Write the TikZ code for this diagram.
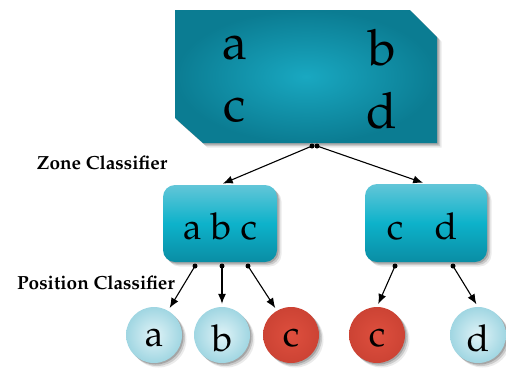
\documentclass[tikz,border=0pt]{standalone}
\usepackage[T1]{fontenc}
\usepackage{mathpazo}
\usetikzlibrary{shadows,arrows.meta}

\definecolor{zoneedge}{HTML}{0B7C92}
\definecolor{zonemid}{HTML}{19A8C1}
\definecolor{boxtop}{HTML}{62C6D8}
\definecolor{boxmid}{HTML}{0DB2CA}
\definecolor{boxbot}{HTML}{0A8DA4}
\definecolor{leafin}{HTML}{E0F3F7}
\definecolor{leafout}{HTML}{A0D6E2}
\definecolor{hitin}{HTML}{DE4F3E}
\definecolor{hitout}{HTML}{CC4334}

\tikzset{
  x=1pt, y=-1pt,
  softshadow/.style={
    drop shadow={shadow xshift=1.5pt, shadow yshift=-1.5pt, opacity=0.18, fill=black},
    drop shadow={shadow xshift=3pt, shadow yshift=-3pt, opacity=0.14, fill=black},
    drop shadow={shadow xshift=4.5pt, shadow yshift=-4.5pt, opacity=0.08, fill=black}},
  zonefill/.style={shading=radial, inner color=zonemid, outer color=zoneedge, softshadow},
  posbox/.style={rectangle, rounded corners=12pt, inner sep=0pt,
    top color=boxtop, bottom color=boxbot, middle color=boxmid, softshadow},
  leaf/.style={circle, minimum size=56pt, inner sep=0pt, softshadow},
  blueleaf/.style={leaf, shading=radial, inner color=leafin, outer color=leafout},
  redleaf/.style={leaf, shading=radial, inner color=hitin, outer color=hitout},
  bigletter/.style={font=\fontsize{50}{50}\selectfont, inner sep=0pt},
  letter/.style={font=\fontsize{37}{37}\selectfont, inner sep=0pt},
  caption/.style={font=\fontsize{19}{19}\selectfont\bfseries, inner sep=0pt},
  link/.style={line width=1.1pt, -{Latex[length=10pt,width=8pt]}, shorten >=3pt},
  knot/.style={circle, fill=black, inner sep=0pt, minimum size=5pt},
}

\begin{document}
\begin{tikzpicture}
\useasboundingbox (0,0) rectangle (506,368);

% zone classifier: box with two cut corners
\path[zonefill] (175,10) -- (410,10) -- (437,37) -- (437,143) -- (203,143) -- (175,118) -- cycle;
\node[minimum width=262pt, minimum height=133pt, inner sep=0pt] (zone) at (306,76.5) {};
\node[bigletter] (za) at (235,47) {a};
\node[bigletter] (zb) at (382,47) {b};
\node[bigletter] (zc) at (235,110) {c};
\node[bigletter] (zd) at (382,110) {d};

% position classifiers
\node[posbox, minimum width=114pt, minimum height=77pt] (left) at (220,223.5) {};
\node[posbox, minimum width=122pt, minimum height=78pt] (right) at (426,223) {};
\node[letter] (labc) at (220,227) {a b c};
\node[letter] (lcd) at (422,227) {c\hspace{0.85em}d};

% outcomes
\node[blueleaf] (oa) at (154,335) {};
\node[blueleaf] (ob) at (222,335) {};
\node[redleaf] (oc) at (291,335) {};
\node[redleaf] (oc2) at (377,335) {};
\node[blueleaf] (od) at (478,335) {};
\node[letter] at ([yshift=-3pt]oa) {a};
\node[letter] at ([yshift=-3pt]ob) {b};
\node[letter] at ([yshift=-3pt]oc) {c};
\node[letter] at ([yshift=-3pt]oc2) {c};
\node[letter] at ([yshift=-3pt]od) {d};

% captions
\node[caption] (zcap) at (102,163) {Zone Classifier};
\node[caption] (pcap) at (96,283) {Position Classifier};

% branch points
\node[knot] (j1) at (312,146) {};
\node[knot] (j2) at (317,146) {};
\node[knot] (p1) at (195,266) {};
\node[knot] (p2) at (222,266) {};
\node[knot] (p3) at (248,266) {};
\node[knot] (p4) at (395,266) {};
\node[knot] (p5) at (453,266) {};

% connectors
\draw[link] (j1.center) -- (left.north);
\draw[link] (j2.center) -- (right.north);
\draw[link] (p1.center) -- (oa.60);
\draw[link] (p2.center) -- (ob.north);
\draw[link] (p3.center) -- (oc.120);
\draw[link] (p4.center) -- (oc2.north);
\draw[link] (p5.center) -- (od.north);
\end{tikzpicture}
\end{document}
